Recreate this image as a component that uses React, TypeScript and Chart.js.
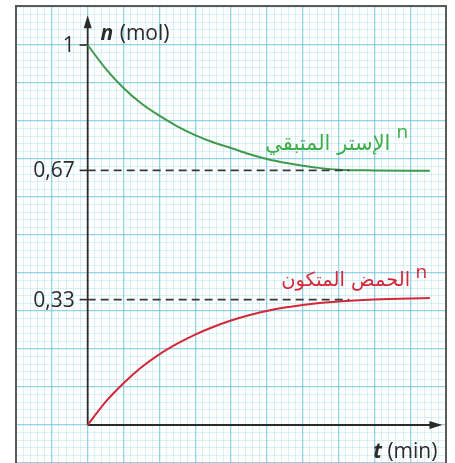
import { useEffect, useRef } from 'react';
import { Chart, registerables } from 'chart.js';

Chart.register(...registerables);

// remaining ester n (mol) vs t (grid units: one 5 mm cell)
const esterTime = [0, 0.5, 1, 1.5, 2, 2.5, 3, 3.5, 4, 4.5, 5, 5.5, 6, 6.5, 7, 8, 9.55];
const esterMol = [1, 0.938, 0.887, 0.846, 0.814, 0.786, 0.763, 0.744, 0.729, 0.713, 0.700, 0.690, 0.682, 0.676, 0.672, 0.670, 0.669];

// formed acid n (mol) vs t
const acidTime = [0, 0.5, 1, 1.5, 2, 2.5, 3, 3.5, 4, 4.5, 5, 5.5, 6, 7, 8, 9.55];
const acidMol = [0, 0.061, 0.110, 0.152, 0.186, 0.214, 0.238, 0.258, 0.275, 0.289, 0.300, 0.309, 0.316, 0.325, 0.330, 0.334];

// y tick values and their labels
const yTickValues = [1, 0.67, 0.33];
const yTickLabels = ['1', '0,67', '0,33'];

// dashed guide lines end
const guideEndTime = 7.3;

const esterLabel = 'الإستر المتبقي';
const acidLabel = 'الحمض المتكون';

const GREEN = '#3f9a4c';
const GREEN_TEXT = '#3cae4a';
const RED = '#d3283a';
const INK = '#2b2b2b';

function isMultiple(v: number, step: number) {
  const r = v / step;
  return Math.abs(r - Math.round(r)) < 1e-6;
}

const paperPlugin = {
  id: 'paper',
  beforeDraw(chart: any) {
    const { ctx } = chart;
    ctx.save();
    ctx.fillStyle = '#ffffff';
    ctx.fillRect(0, 0, chart.width, chart.height);
    ctx.restore();
  },
  beforeDatasetsDraw(chart: any) {
    const { ctx, chartArea, scales } = chart;
    const xs = scales.x;
    const ys = scales.y;
    ctx.save();
    // frame
    ctx.strokeStyle = '#5a5a5a';
    ctx.lineWidth = 2;
    ctx.beginPath();
    ctx.moveTo(chartArea.left, chartArea.bottom);
    ctx.lineTo(chartArea.left, chartArea.top - 1);
    ctx.lineTo(chartArea.right, chartArea.top - 1);
    ctx.lineTo(chartArea.right, chartArea.bottom);
    ctx.stroke();

    const x0 = xs.getPixelForValue(0);
    const y0 = ys.getPixelForValue(0);
    ctx.strokeStyle = INK;
    ctx.fillStyle = INK;
    ctx.lineWidth = 1.8;
    // y axis
    const yTip = ys.getPixelForValue(1.078);
    ctx.beginPath();
    ctx.moveTo(x0, y0);
    ctx.lineTo(x0, yTip + 8);
    ctx.stroke();
    ctx.beginPath();
    ctx.moveTo(x0, yTip);
    ctx.lineTo(x0 - 4, yTip + 13);
    ctx.lineTo(x0 + 4, yTip + 13);
    ctx.closePath();
    ctx.fill();
    // x axis
    const xTip = xs.getPixelForValue(9.9);
    ctx.beginPath();
    ctx.moveTo(x0, y0);
    ctx.lineTo(xTip - 8, y0);
    ctx.stroke();
    ctx.beginPath();
    ctx.moveTo(xTip, y0);
    ctx.lineTo(xTip - 13, y0 - 4);
    ctx.lineTo(xTip - 13, y0 + 4);
    ctx.closePath();
    ctx.fill();

    // y ticks and labels
    ctx.lineWidth = 1.6;
    ctx.font = '21px "Open Sans", sans-serif';
    ctx.textAlign = 'right';
    ctx.textBaseline = 'middle';
    yTickValues.forEach((v, i) => {
      const py = ys.getPixelForValue(v);
      ctx.beginPath();
      ctx.moveTo(x0 - 8, py);
      ctx.lineTo(x0, py);
      ctx.stroke();
      ctx.fillText(yTickLabels[i], x0 - 13, py + 1);
    });
    ctx.restore();
  },
  afterDraw(chart: any) {
    const { ctx, scales } = chart;
    const xs = scales.x;
    const ys = scales.y;
    ctx.save();
    ctx.fillStyle = INK;
    ctx.textBaseline = 'alphabetic';
    ctx.textAlign = 'left';
    // n (mol)
    let px = xs.getPixelForValue(0.36);
    const py = ys.getPixelForValue(1.012);
    ctx.font = 'italic bold 21px "Open Sans", sans-serif';
    ctx.fillText('n', px, py);
    px += ctx.measureText('n ').width + 1;
    ctx.font = '21px "Open Sans", sans-serif';
    ctx.fillText('(mol)', px, py);
    // t (min)
    const tx = xs.getPixelForValue(9.76);
    const ty = ys.getPixelForValue(-0.087);
    ctx.textAlign = 'right';
    ctx.font = '21px "Open Sans", sans-serif';
    const w = ctx.measureText(' (min)').width;
    ctx.fillText(' (min)', tx, ty);
    ctx.font = 'italic bold 21px "Open Sans", sans-serif';
    ctx.fillText('t', tx - w, ty);

    // curve labels
    const drawLabel = (text: string, color: string, size: number, tRight: number, nBase: number, tN: number, nN: number) => {
      ctx.fillStyle = color;
      ctx.textAlign = 'right';
      ctx.font = `${size}px "DejaVu Sans", sans-serif`;
      ctx.fillText(text, xs.getPixelForValue(tRight), ys.getPixelForValue(nBase));
      ctx.textAlign = 'left';
      ctx.font = '19px "Open Sans", sans-serif';
      ctx.fillText('n', xs.getPixelForValue(tN), ys.getPixelForValue(nN));
    };
    drawLabel(esterLabel, GREEN_TEXT, 21, 8.45, 0.724, 8.62, 0.755);
    drawLabel(acidLabel, RED, 19.5, 9.0, 0.366, 9.15, 0.387);
    ctx.restore();
  },
};

export default function App() {
  const ref = useRef<HTMLCanvasElement>(null);
  useEffect(() => {
    const canvas = ref.current;
    if (!canvas) return;
    const minorColor = 'rgba(125, 205, 225, 0.36)';
    const majorColor = 'rgba(110, 196, 222, 0.75)';
    const guide = {
      borderColor: '#383838',
      borderWidth: 1.6,
      borderDash: [8, 5],
      pointRadius: 0,
    };
    const chart = new Chart(canvas, {
      type: 'line',
      data: {
        datasets: [
          { ...guide, data: [{ x: 0, y: yTickValues[1] }, { x: guideEndTime, y: yTickValues[1] }] },
          { ...guide, data: [{ x: 0, y: yTickValues[2] }, { x: guideEndTime, y: yTickValues[2] }] },
          {
            data: esterTime.map((t, i) => ({ x: t, y: esterMol[i] })),
            borderColor: GREEN,
            borderWidth: 2,
            pointRadius: 0,
            cubicInterpolationMode: 'monotone',
          },
          {
            data: acidTime.map((t, i) => ({ x: t, y: acidMol[i] })),
            borderColor: RED,
            borderWidth: 2,
            pointRadius: 0,
            cubicInterpolationMode: 'monotone',
          },
        ],
      },
      options: {
        animation: false,
        responsive: false,
        layout: { padding: { left: 16, right: 9, top: 7, bottom: 0 } },
        plugins: { legend: { display: false }, tooltip: { enabled: false } },
        scales: {
          x: {
            type: 'linear',
            min: -2,
            max: 10,
            ticks: { display: false, stepSize: 0.2 },
            grid: {
              drawTicks: false,
              color: (c: any) => (isMultiple(c.tick.value, 1) ? majorColor : minorColor),
              lineWidth: (c: any) => (isMultiple(c.tick.value, 1) ? 1.3 : 0.8),
            },
            border: { display: false },
          },
          y: {
            type: 'linear',
            min: -0.1,
            max: 1.1,
            ticks: { display: false, stepSize: 0.02 },
            grid: {
              drawTicks: false,
              color: (c: any) => (isMultiple(c.tick.value, 0.1) ? majorColor : minorColor),
              lineWidth: (c: any) => (isMultiple(c.tick.value, 0.1) ? 1.3 : 0.8),
            },
            border: { display: false },
          },
        },
      },
      plugins: [paperPlugin],
    });
    return () => chart.destroy();
  }, []);
  return (
    <div style={{ position: 'absolute', left: 0, top: 0, width: 455, height: 463, background: '#fff' }}>
      <canvas ref={ref} width={455} height={463} style={{ display: 'block' }} />
    </div>
  );
}
